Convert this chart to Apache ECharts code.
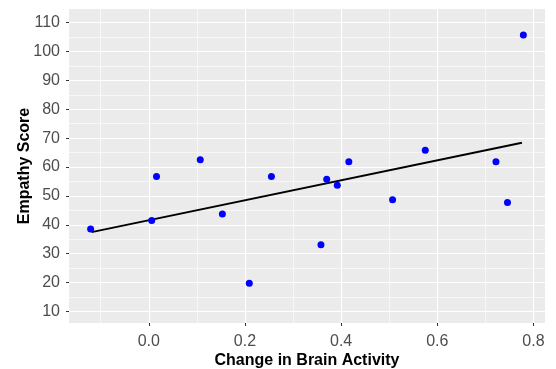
<!DOCTYPE html>
<html>
<head>
<meta charset="utf-8">
<script src="https://cdn.jsdelivr.net/npm/echarts@6/dist/echarts.min.js"></script>
<style>
html,body{margin:0;padding:0;background:#fff;}
#chart{width:556px;height:369px;}
</style>
</head>
<body>
<div id="chart"></div>
<script>
const brainChange = [-0.121, 0.006, 0.016, 0.107, 0.153, 0.209, 0.255, 0.358, 0.370, 0.392, 0.416, 0.507, 0.575, 0.722, 0.746, 0.779];
const empathy = [38.5, 41.5, 56.7, 62.5, 43.7, 19.8, 56.7, 33.1, 55.8, 53.7, 61.8, 48.7, 65.8, 61.8, 47.7, 105.7];
const fitX = [-0.119, 0.776];
const fitY = [37.5, 68.4];
const xTicks = [0, 0.2, 0.4, 0.6, 0.8];
const yTicks = [10, 20, 30, 40, 50, 60, 70, 80, 90, 100, 110];

const points = brainChange.map((x, i) => [x, empathy[i]]);
const fitLine = fitX.map((x, i) => [x, fitY[i]]);

const chart = echarts.init(document.getElementById('chart'), null, {renderer: 'canvas'});
const font = 'Liberation Sans, Arial, sans-serif';
chart.setOption({
  animation: false,
  backgroundColor: '#ffffff',
  grid: {left: 69, right: 11, top: 9, bottom: 46, show: true, backgroundColor: '#EBEBEB', borderWidth: 0,
    containLabel: false, outerBoundsMode: 'none'},
  xAxis: {
    type: 'value',
    min: -0.166, max: 0.824,
    splitNumber: 5,
    name: 'Change in Brain Activity',
    nameLocation: 'middle',
    nameGap: 30,
    nameMoveOverlap: false,
    nameTextStyle: {color: '#000', fontSize: 16, fontWeight: 'bold', fontFamily: font},
    axisLine: {show: false, onZero: false},
    axisTick: {show: true, length: 3, lineStyle: {color: '#333333', width: 1}, customValues: xTicks},
    axisLabel: {color: '#4D4D4D', fontSize: 16, fontFamily: font, margin: 11, customValues: xTicks,
      formatter: v => Number(v).toFixed(1)},
    splitLine: {show: true, lineStyle: {color: '#ffffff', width: 1.2}},
    minorTick: {show: false, splitNumber: 2},
    minorSplitLine: {show: true, lineStyle: {color: '#ffffff', width: 0.6}}
  },
  yAxis: {
    type: 'value',
    min: 6, max: 114.7,
    splitNumber: 11,
    name: 'Empathy Score',
    nameLocation: 'middle',
    nameGap: 36,
    nameMoveOverlap: false,
    nameTextStyle: {color: '#000', fontSize: 16, fontWeight: 'bold', fontFamily: font},
    axisLine: {show: false, onZero: false},
    axisTick: {show: true, length: 3, lineStyle: {color: '#333333', width: 1}, customValues: yTicks},
    axisLabel: {color: '#4D4D4D', fontSize: 16, fontFamily: font, margin: 9, customValues: yTicks},
    splitLine: {show: true, lineStyle: {color: '#ffffff', width: 1.2}},
    minorTick: {show: false, splitNumber: 2},
    minorSplitLine: {show: true, lineStyle: {color: '#ffffff', width: 0.6}}
  },
  series: [
    {
      type: 'line',
      data: fitLine,
      showSymbol: false,
      symbol: 'none',
      lineStyle: {color: '#000000', width: 1.8},
      z: 2,
      silent: true
    },
    {
      type: 'scatter',
      data: points,
      symbol: 'circle',
      symbolSize: 7,
      itemStyle: {color: '#0000FF', opacity: 1},
      z: 3
    }
  ]
});
</script>
</body>
</html>
